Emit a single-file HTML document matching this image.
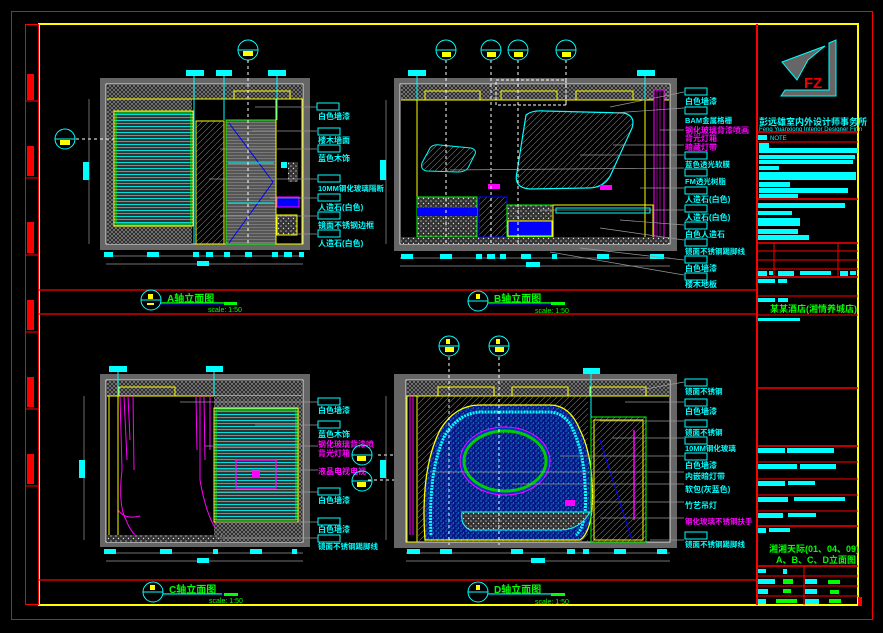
<!DOCTYPE html>
<html><head><meta charset="utf-8"><style>
html,body{margin:0;padding:0;background:#000;}
svg{display:block}
text{font-family:"Liberation Sans","Noto Sans CJK SC",sans-serif;}
</style></head><body>
<svg width="883" height="633" viewBox="0 0 883 633" xmlns="http://www.w3.org/2000/svg">
<defs>
<pattern id="hx" width="4" height="4" patternUnits="userSpaceOnUse"><rect width="4" height="4" fill="#222"/><path d="M0 4L4 0M0 0L4 4" stroke="#888" stroke-width="0.7"/></pattern>
<pattern id="dg" width="6" height="6" patternUnits="userSpaceOnUse"><path d="M0 6L6 0" stroke="#777" stroke-width="0.6"/></pattern>
<pattern id="st" width="60" height="6" patternUnits="userSpaceOnUse"><rect width="60" height="6" fill="#333"/><rect y="0" width="60" height="1" fill="#0dd"/><rect y="3" width="60" height="1" fill="#888"/></pattern>
<pattern id="gs" width="60" height="3" patternUnits="userSpaceOnUse"><rect width="60" height="3" fill="#555"/><rect y="2" width="60" height="0.7" fill="#888"/></pattern>
<pattern id="bd" width="5" height="5" patternUnits="userSpaceOnUse"><rect width="5" height="5" fill="#001a88"/><circle cx="1" cy="1" r="0.6" fill="#5af"/><circle cx="3.5" cy="3" r="0.5" fill="#0ff"/><circle cx="2" cy="4" r="0.4" fill="#fff"/></pattern>
<pattern id="gr" width="5" height="5" patternUnits="userSpaceOnUse"><rect width="5" height="5" fill="#333"/><circle cx="1" cy="1" r="0.8" fill="#aaa"/><circle cx="3.5" cy="3.5" r="0.7" fill="#ddd"/></pattern>
</defs>
<rect width="883" height="633" fill="#000"/>
<rect x="11.5" y="11.5" width="861" height="608" fill="none" stroke="#f00" stroke-width="1"/>
<rect x="39" y="24" width="819" height="581" fill="none" stroke="#ff0" stroke-width="2"/>
<rect x="25.5" y="24.5" width="13" height="580" fill="none" stroke="#f00"/>
<g stroke="#f00"><line x1="25" y1="101" x2="39" y2="101"/><line x1="25" y1="178" x2="39" y2="178"/><line x1="25" y1="255" x2="39" y2="255"/><line x1="25" y1="332" x2="39" y2="332"/><line x1="25" y1="409" x2="39" y2="409"/><line x1="25" y1="486" x2="39" y2="486"/></g>
<g fill="#f00"><rect x="27" y="74" width="7" height="26"/><rect x="27" y="146" width="7" height="30"/><rect x="27" y="222" width="7" height="31"/><rect x="27" y="300" width="7" height="30"/><rect x="27" y="377" width="7" height="30"/><rect x="27" y="454" width="7" height="30"/></g>
<g stroke="#f00" stroke-width="1.2"><line x1="39" y1="290" x2="757" y2="290"/><line x1="39" y1="314" x2="757" y2="314"/><line x1="39" y1="580" x2="757" y2="580"/></g>
<line x1="757" y1="24" x2="757" y2="605" stroke="#f00" stroke-width="2"/>

<g>
<rect x="100" y="78" width="210" height="172" fill="#666"/>
<rect x="106" y="84" width="197" height="160" fill="#000" stroke="#fff" stroke-width="0.8"/>
<rect x="107" y="85" width="195" height="14" fill="url(#hx)"/>
<rect x="107" y="99" width="85" height="145" fill="url(#hx)"/>
<rect x="114" y="111" width="79" height="115" fill="url(#st)" stroke="#ff0"/>
<rect x="116" y="113" width="75" height="111" fill="none" stroke="#0f0"/>
<rect x="196" y="121" width="28" height="123" fill="url(#dg)" stroke="#ff0"/>
<rect x="226" y="120" width="50" height="124" fill="url(#gs)" stroke="#0f0"/>
<line x1="229" y1="123" x2="273" y2="182" stroke="#00f"/><line x1="273" y1="182" x2="229" y2="243" stroke="#00f"/>
<line x1="228" y1="163" x2="274" y2="163" stroke="#0ff"/><line x1="228" y1="203" x2="274" y2="203" stroke="#0ff"/>
<rect x="234" y="91" width="56" height="8" fill="none" stroke="#ff0"/>
<rect x="276" y="99" width="26" height="145" fill="none" stroke="#ff0"/>
<rect x="277" y="197" width="22" height="10" fill="#00f" stroke="#f0f"/>
<rect x="277" y="215" width="20" height="20" fill="url(#gr)" stroke="#ff0"/>
<rect x="288" y="162" width="10" height="20" fill="url(#gr)"/>
<rect x="281" y="162" width="6" height="6" fill="#0ff"/>
<line x1="107" y1="99" x2="302" y2="99" stroke="#ff0"/>
<g stroke="#0ff"><line x1="194" y1="75" x2="194" y2="244"/><line x1="224" y1="75" x2="224" y2="120"/><line x1="277" y1="75" x2="277" y2="120"/></g>
<g fill="#0ff"><rect x="186" y="70" width="18" height="6"/><rect x="216" y="70" width="16" height="6"/><rect x="268" y="70" width="18" height="6"/></g>
<g stroke="#999" stroke-width="0.7"><line x1="89" y1="99" x2="89" y2="244"/><line x1="106" y1="256" x2="303" y2="256"/><line x1="106" y1="264" x2="303" y2="264"/></g>
<rect x="83" y="162" width="6" height="18" fill="#0ff"/>
<g fill="#0ff"><rect x="104" y="252" width="9" height="5"/><rect x="147" y="252" width="12" height="5"/><rect x="193" y="252" width="6" height="5"/><rect x="206" y="252" width="7" height="5"/><rect x="224" y="252" width="6" height="5"/><rect x="245" y="252" width="7" height="5"/><rect x="272" y="252" width="6" height="5"/><rect x="284" y="252" width="8" height="5"/><rect x="299" y="252" width="5" height="5"/><rect x="197" y="261" width="12" height="5"/></g>
<line x1="76" y1="139" x2="114" y2="139" stroke="#fff" stroke-dasharray="3,3"/>
<circle cx="65" cy="139" r="10" fill="none" stroke="#0ff"/><line x1="55" y1="139" x2="75" y2="139" stroke="#0ff"/><rect x="60" y="140" width="10" height="5" fill="#ff0"/>
<circle cx="248" cy="50" r="10" fill="none" stroke="#0ff"/><line x1="238" y1="50" x2="258" y2="50" stroke="#0ff"/><rect x="243" y="51" width="10" height="5" fill="#ff0"/>
<line x1="248" y1="60" x2="248" y2="244" stroke="#fff" stroke-dasharray="3,3"/>
<g stroke="#999" stroke-width="0.7"><line x1="255" y1="107" x2="317" y2="107"/><line x1="252" y1="131" x2="317" y2="131"/><line x1="220" y1="149" x2="317" y2="149"/><line x1="209" y1="179" x2="317" y2="179"/><line x1="270" y1="198" x2="317" y2="198"/><line x1="220" y1="216" x2="317" y2="216"/><line x1="291" y1="234" x2="317" y2="234"/></g>
<g fill="#0ff" font-size="8" font-weight="bold">
<rect x="317" y="103" width="22" height="7" fill="none" stroke="#0ff"/><text x="318" y="119">白色墙漆</text>
<rect x="318" y="128" width="22" height="7" fill="none" stroke="#0ff"/><text x="318" y="143">楼木墙面</text>
<rect x="318" y="145" width="22" height="7" fill="none" stroke="#0ff"/><text x="318" y="161">蓝色木饰</text>
<rect x="318" y="175" width="22" height="7" fill="none" stroke="#0ff"/><text x="318" y="191" font-size="7.5">10MM钢化玻璃隔断</text>
<rect x="318" y="194" width="22" height="7" fill="none" stroke="#0ff"/><text x="318" y="210">人造石(白色)</text>
<rect x="318" y="212" width="22" height="7" fill="none" stroke="#0ff"/><text x="318" y="228">镜面不锈钢边框</text>
<rect x="318" y="230" width="22" height="7" fill="none" stroke="#0ff"/><text x="318" y="246">人造石(白色)</text>
</g>
</g>

<g>
<rect x="394" y="78" width="283" height="173" fill="#666"/>
<rect x="400" y="84" width="270" height="160" fill="#000" stroke="#fff" stroke-width="0.8"/>
<rect x="401" y="85" width="268" height="15" fill="url(#hx)"/>
<line x1="401" y1="100" x2="669" y2="100" stroke="#ff0"/>
<g fill="none" stroke="#ff0"><rect x="425" y="91" width="55" height="9"/><rect x="501" y="91" width="56" height="9"/><rect x="576" y="91" width="57" height="9"/></g>
<rect x="496" y="80" width="70" height="25" fill="none" stroke="#fff" stroke-dasharray="3,2"/>
<rect x="654" y="90" width="10" height="152" fill="#000" stroke="#f0f"/>
<g stroke="#f0f" stroke-width="0.6"><line x1="657" y1="90" x2="657" y2="242"/><line x1="660" y1="90" x2="660" y2="242"/></g>
<line x1="417" y1="100" x2="417" y2="244" stroke="#ff0"/><line x1="645" y1="100" x2="645" y2="244" stroke="#ff0"/>
<path d="M430 148 Q433 144 440 145 L471 148 Q478 150 474 156 L468 168 Q465 172 458 172 L427 171 Q420 170 422 163 Z" fill="url(#dg)" stroke="#0ff"/>
<path d="M526 115 Q532 110 545 111 L624 113 Q636 116 632 128 L612 172 Q606 188 588 188 L530 189 Q513 188 517 172 Z" fill="url(#dg)" stroke="#0ff" stroke-width="1.2"/>
<rect x="417" y="197" width="60" height="40" fill="url(#gr)" stroke="#0f0"/>
<rect x="417" y="208" width="60" height="8" fill="#00f"/>
<rect x="479" y="197" width="28" height="40" fill="url(#dg)" stroke="#00f"/>
<rect x="507" y="205" width="46" height="32" fill="url(#gr)" stroke="#0f0"/>
<rect x="508" y="221" width="44" height="15" fill="#00f" stroke="#ff0"/>
<rect x="553" y="205" width="100" height="33" fill="none" stroke="#ff0"/>
<rect x="556" y="208" width="94" height="5" fill="none" stroke="#0ff"/>
<rect x="401" y="237" width="268" height="7" fill="url(#gr)"/>
<rect x="488" y="184" width="12" height="5" fill="#f0f"/><rect x="600" y="185" width="12" height="5" fill="#f0f"/>
<g stroke="#fff" stroke-dasharray="3,3"><line x1="446" y1="60" x2="446" y2="244"/><line x1="491" y1="60" x2="491" y2="244"/><line x1="518" y1="60" x2="518" y2="244"/><line x1="566" y1="60" x2="566" y2="105"/></g>
<g><circle cx="446" cy="50" r="10" fill="none" stroke="#0ff"/><circle cx="491" cy="50" r="10" fill="none" stroke="#0ff"/><circle cx="518" cy="50" r="10" fill="none" stroke="#0ff"/><circle cx="566" cy="50" r="10" fill="none" stroke="#0ff"/>
<g stroke="#0ff"><line x1="436" y1="50" x2="456" y2="50"/><line x1="481" y1="50" x2="501" y2="50"/><line x1="508" y1="50" x2="528" y2="50"/><line x1="556" y1="50" x2="576" y2="50"/></g>
<g fill="#ff0"><rect x="442" y="52" width="9" height="5"/><rect x="487" y="52" width="9" height="5"/><rect x="514" y="52" width="9" height="5"/><rect x="562" y="52" width="9" height="5"/></g></g>
<g fill="#0ff"><rect x="408" y="70" width="18" height="6"/><rect x="637" y="70" width="18" height="6"/></g>
<g stroke="#0ff"><line x1="417" y1="76" x2="417" y2="100"/><line x1="645" y1="76" x2="645" y2="100"/></g>
<g stroke="#999" stroke-width="0.7"><line x1="386" y1="100" x2="386" y2="244"/><line x1="400" y1="258" x2="670" y2="258"/><line x1="400" y1="266" x2="670" y2="266"/></g>
<rect x="380" y="160" width="6" height="20" fill="#0ff"/>
<g fill="#0ff"><rect x="401" y="254" width="12" height="5"/><rect x="440" y="254" width="12" height="5"/><rect x="476" y="254" width="6" height="5"/><rect x="487" y="254" width="8" height="5"/><rect x="500" y="254" width="6" height="5"/><rect x="521" y="254" width="10" height="5"/><rect x="552" y="254" width="5" height="5"/><rect x="597" y="254" width="12" height="5"/><rect x="650" y="254" width="14" height="5"/><rect x="526" y="262" width="14" height="5"/></g>
<g stroke="#999" stroke-width="0.7"><line x1="610" y1="107" x2="684" y2="92"/><line x1="613" y1="113" x2="684" y2="108"/><line x1="660" y1="130" x2="684" y2="130"/><line x1="613" y1="145" x2="684" y2="145"/><line x1="580" y1="155" x2="684" y2="155"/><line x1="450" y1="170" x2="684" y2="168"/><line x1="640" y1="188" x2="684" y2="188"/><line x1="540" y1="210" x2="684" y2="210"/><line x1="620" y1="220" x2="684" y2="225"/><line x1="600" y1="228" x2="684" y2="240"/><line x1="580" y1="248" x2="684" y2="260"/><line x1="550" y1="252" x2="684" y2="275"/></g>
<g fill="#0ff" font-size="8" font-weight="bold">
<rect x="685" y="88" width="22" height="7" fill="none" stroke="#0ff"/><text x="685" y="104">白色墙漆</text>
<rect x="685" y="107" width="22" height="7" fill="none" stroke="#0ff"/><text x="685" y="123" font-size="7.5">BAM金属格栅</text>
<text x="685" y="133" fill="#f0f">钢化玻璃背漆喷画</text><text x="685" y="141" fill="#f0f">背光灯箱</text><text x="685" y="150" fill="#f0f">暗藏灯带</text>
<rect x="685" y="152" width="22" height="7" fill="none" stroke="#0ff"/><text x="685" y="167" font-size="7.5">蓝色透光软膜</text>
<rect x="685" y="169" width="22" height="7" fill="none" stroke="#0ff"/><text x="685" y="184" font-size="7.5">FM透光树脂</text>
<rect x="685" y="187" width="22" height="7" fill="none" stroke="#0ff"/><text x="685" y="202">人造石(白色)</text>
<rect x="685" y="205" width="22" height="7" fill="none" stroke="#0ff"/><text x="685" y="220">人造石(白色)</text>
<rect x="685" y="222" width="22" height="7" fill="none" stroke="#0ff"/><text x="685" y="237">白色人造石</text>
<rect x="685" y="239" width="22" height="7" fill="none" stroke="#0ff"/><text x="685" y="254" font-size="7.5">镜面不锈钢踢脚线</text>
<rect x="685" y="256" width="22" height="7" fill="none" stroke="#0ff"/><text x="685" y="271">白色墙漆</text>
<rect x="685" y="273" width="22" height="7" fill="none" stroke="#0ff"/><text x="685" y="287">楼木地板</text>
</g>
</g>

<g>
<rect x="100" y="374" width="210" height="173" fill="#666"/>
<rect x="106" y="380" width="197" height="162" fill="#000" stroke="#fff" stroke-width="0.8"/>
<rect x="107" y="381" width="195" height="15" fill="url(#hx)"/>
<line x1="107" y1="396" x2="302" y2="396" stroke="#ff0"/>
<rect x="119" y="387" width="56" height="9" fill="none" stroke="#ff0"/>
<rect x="214" y="396" width="88" height="146" fill="url(#hx)"/>
<rect x="214" y="408" width="84" height="114" fill="url(#st)" stroke="#ff0"/>
<rect x="216" y="410" width="80" height="110" fill="none" stroke="#0f0"/>
<rect x="236" y="460" width="40" height="28" fill="none" stroke="#f0f" stroke-width="1.3"/>
<rect x="252" y="470" width="8" height="8" fill="#f0f"/>
<g fill="none" stroke="#f0f" stroke-width="1"><path d="M120 396 L122 470 Q118 505 126 520 Q130 530 135 535"/><path d="M124 396 L127 460 M128 396 L130 440 M133 396 L134 470"/><path d="M200 396 L200 480 Q205 510 215 528"/><path d="M204 396 L205 460 M210 396 L210 450 M196 396 L197 450"/><path d="M118 510 Q125 520 140 516"/></g>
<line x1="109" y1="396" x2="109" y2="542" stroke="#ff0"/><line x1="118" y1="396" x2="118" y2="542" stroke="#ff0"/>
<rect x="107" y="535" width="116" height="7" fill="url(#gr)"/>
<g stroke="#0ff"><line x1="118" y1="372" x2="118" y2="396"/><line x1="214" y1="372" x2="214" y2="396"/></g>
<g fill="#0ff"><rect x="109" y="366" width="18" height="6"/><rect x="206" y="366" width="17" height="6"/></g>
<g stroke="#999" stroke-width="0.7"><line x1="84" y1="396" x2="84" y2="540"/><line x1="106" y1="553" x2="303" y2="553"/><line x1="106" y1="561" x2="303" y2="561"/></g>
<rect x="79" y="460" width="6" height="18" fill="#0ff"/>
<g fill="#0ff"><rect x="104" y="549" width="12" height="5"/><rect x="160" y="549" width="12" height="5"/><rect x="213" y="549" width="5" height="5"/><rect x="250" y="549" width="12" height="5"/><rect x="292" y="549" width="5" height="5"/><rect x="197" y="558" width="12" height="5"/></g>
<g stroke="#999" stroke-width="0.7"><line x1="180" y1="402" x2="318" y2="402"/><line x1="255" y1="425" x2="318" y2="425"/><line x1="205" y1="446" x2="318" y2="446"/><line x1="216" y1="470" x2="318" y2="470"/><line x1="216" y1="492" x2="318" y2="492"/><line x1="216" y1="522" x2="318" y2="522"/><line x1="216" y1="538" x2="318" y2="538"/></g>
<g fill="#0ff" font-size="8" font-weight="bold">
<rect x="318" y="398" width="22" height="7" fill="none" stroke="#0ff"/><text x="318" y="413">白色墙漆</text>
<rect x="318" y="421" width="22" height="7" fill="none" stroke="#0ff"/><text x="318" y="437">蓝色木饰</text>
<text x="318" y="447" fill="#f0f">钢化玻璃背漆喷</text><text x="318" y="456" fill="#f0f">背光灯箱</text>
<text x="318" y="474" fill="#f0f">液晶电视电视</text>
<rect x="318" y="488" width="22" height="7" fill="none" stroke="#0ff"/><text x="318" y="503">白色墙漆</text>
<rect x="318" y="518" width="22" height="7" fill="none" stroke="#0ff"/><text x="318" y="532">白色墙漆</text>
<rect x="318" y="535" width="22" height="7" fill="none" stroke="#0ff"/><text x="318" y="549" font-size="7.5">镜面不锈钢踢脚线</text>
</g>
<line x1="378" y1="455" x2="400" y2="455" stroke="#fff" stroke-dasharray="3,3"/>
<line x1="368" y1="480" x2="400" y2="480" stroke="#fff" stroke-dasharray="3,3"/>
<circle cx="362" cy="455" r="10" fill="none" stroke="#0ff"/><line x1="352" y1="455" x2="372" y2="455" stroke="#0ff"/><rect x="357" y="456" width="9" height="5" fill="#ff0"/>
<circle cx="362" cy="481" r="10" fill="none" stroke="#0ff"/><line x1="352" y1="481" x2="372" y2="481" stroke="#0ff"/><rect x="357" y="482" width="9" height="5" fill="#ff0"/>
</g>

<g>
<rect x="394" y="374" width="283" height="174" fill="#666"/>
<rect x="406" y="380" width="264" height="162" fill="#000" stroke="#fff" stroke-width="0.8"/>
<rect x="407" y="381" width="262" height="15" fill="url(#hx)"/>
<line x1="407" y1="396" x2="669" y2="396" stroke="#ff0"/>
<g fill="none" stroke="#ff0"><rect x="438" y="387" width="56" height="9"/><rect x="512" y="387" width="56" height="9"/><rect x="590" y="387" width="56" height="9"/></g>
<rect x="407" y="396" width="10" height="146" fill="none" stroke="#ff0"/>
<g stroke="#f0f"><line x1="410" y1="396" x2="410" y2="535"/><line x1="413" y1="396" x2="413" y2="535"/></g>
<rect x="418" y="396" width="170" height="146" fill="url(#dg)"/>
<path d="M425 540 Q420 470 440 430 Q455 405 480 405 L550 405 Q570 405 580 430 Q590 450 592 480 Q595 530 580 540 Z" fill="url(#bd)" stroke="#ff0" stroke-width="1.3"/>
<path d="M431 535 Q428 470 445 435 Q460 412 482 412 L548 412 Q566 412 574 432 Q584 455 585 485 Q588 525 576 535" fill="none" stroke="#0ff" stroke-width="3" stroke-dasharray="2,1"/>
<ellipse cx="505" cy="461" rx="45" ry="34" fill="#0033cc" stroke="#f0f"/>
<ellipse cx="505" cy="461" rx="41" ry="30" fill="url(#bd)" stroke="#0c0" stroke-width="3"/>
<path d="M462 512 L590 512 Q580 530 560 530 L470 530 Q460 525 462 512Z" fill="url(#gr)" stroke="#0ff"/>
<rect x="591" y="417" width="55" height="125" fill="url(#dg)" stroke="#0f0"/>
<rect x="594" y="420" width="49" height="120" fill="none" stroke="#ff0"/>
<line x1="634" y1="430" x2="634" y2="520" stroke="#f0f" stroke-width="1.5"/>
<line x1="600" y1="440" x2="632" y2="540" stroke="#00f"/>
<rect x="565" y="500" width="10" height="6" fill="#f0f"/>
<g stroke="#fff" stroke-dasharray="3,3"><line x1="449" y1="357" x2="449" y2="545"/><line x1="499" y1="357" x2="499" y2="545"/></g>
<circle cx="449" cy="346" r="10" fill="none" stroke="#0ff"/><line x1="439" y1="346" x2="459" y2="346" stroke="#0ff"/><rect x="445" y="347" width="9" height="5" fill="#ff0"/><rect x="446" y="339" width="4" height="5" fill="#ff0"/>
<circle cx="499" cy="346" r="10" fill="none" stroke="#0ff"/><line x1="489" y1="346" x2="509" y2="346" stroke="#0ff"/><rect x="495" y="347" width="9" height="5" fill="#ff0"/><rect x="496" y="339" width="4" height="5" fill="#ff0"/>
<rect x="583" y="368" width="17" height="6" fill="#0ff"/><line x1="591" y1="374" x2="591" y2="417" stroke="#0ff"/>
<g stroke="#999" stroke-width="0.7"><line x1="386" y1="396" x2="386" y2="540"/><line x1="406" y1="553" x2="670" y2="553"/><line x1="406" y1="561" x2="670" y2="561"/></g>
<rect x="380" y="460" width="6" height="18" fill="#0ff"/>
<g fill="#0ff"><rect x="407" y="549" width="13" height="5"/><rect x="440" y="549" width="12" height="5"/><rect x="511" y="549" width="12" height="5"/><rect x="567" y="549" width="8" height="5"/><rect x="583" y="549" width="6" height="5"/><rect x="614" y="549" width="12" height="5"/><rect x="657" y="549" width="10" height="5"/><rect x="531" y="558" width="14" height="5"/></g>
<g stroke="#999" stroke-width="0.7"><line x1="640" y1="390" x2="684" y2="382"/><line x1="625" y1="402" x2="684" y2="402"/><line x1="600" y1="421" x2="684" y2="421"/><line x1="612" y1="438" x2="684" y2="438"/><line x1="560" y1="456" x2="684" y2="456"/><line x1="430" y1="472" x2="684" y2="472"/><line x1="512" y1="484" x2="684" y2="484"/><line x1="590" y1="502" x2="684" y2="502"/><line x1="600" y1="518" x2="684" y2="518"/><line x1="650" y1="540" x2="684" y2="540"/></g>
<g fill="#0ff" font-size="8" font-weight="bold">
<rect x="685" y="379" width="22" height="7" fill="none" stroke="#0ff"/><text x="685" y="394" font-size="7.5">镜面不锈钢</text>
<rect x="685" y="399" width="22" height="7" fill="none" stroke="#0ff"/><text x="685" y="414">白色墙漆</text>
<rect x="685" y="420" width="22" height="7" fill="none" stroke="#0ff"/><text x="685" y="435" font-size="7.5">镜面不锈钢</text>
<rect x="685" y="437" width="22" height="7" fill="none" stroke="#0ff"/><text x="685" y="451" font-size="7.5">10MM钢化玻璃</text>
<rect x="685" y="453" width="22" height="7" fill="none" stroke="#0ff"/><text x="685" y="468">白色墙漆</text>
<text x="685" y="479">内嵌暗灯带</text>
<text x="685" y="492">软包(灰蓝色)</text>
<text x="685" y="508">竹艺吊灯</text>
<text x="685" y="524" fill="#f0f" font-size="7.5">钢化玻璃不锈钢扶手</text>
<rect x="685" y="532" width="22" height="7" fill="none" stroke="#0ff"/><text x="685" y="547" font-size="7.5">镜面不锈钢踢脚线</text>
</g>
</g>

<g>
<circle cx="151" cy="300" r="10" fill="none" stroke="#0ff"/><line x1="141" y1="300" x2="161" y2="300" stroke="#0ff"/><rect x="148" y="294" width="5" height="5" fill="#ff0"/><rect x="147" y="303" width="7" height="2" fill="#ff0"/>
<text x="167" y="302" font-size="10" fill="#0f0" font-weight="bold">A轴立面图</text><line x1="161" y1="303" x2="226" y2="303" stroke="#0f0" stroke-width="1.5"/><line x1="161" y1="304" x2="237" y2="304" stroke="#00f"/><rect x="224" y="302" width="13" height="3" fill="#0f0"/><text x="208" y="312" font-size="7" fill="#0f0">scale: 1:50</text>
<circle cx="478" cy="301" r="10" fill="none" stroke="#0ff"/><line x1="468" y1="301" x2="488" y2="301" stroke="#0ff"/><rect x="476" y="294" width="4" height="5" fill="#ff0"/>
<text x="494" y="302" font-size="10" fill="#0f0" font-weight="bold">B轴立面图</text><line x1="488" y1="303" x2="552" y2="303" stroke="#0f0" stroke-width="1.5"/><line x1="488" y1="304" x2="565" y2="304" stroke="#00f"/><rect x="551" y="302" width="14" height="3" fill="#0f0"/><text x="535" y="313" font-size="7" fill="#0f0">scale: 1:50</text>
<circle cx="153" cy="592" r="10" fill="none" stroke="#0ff"/><line x1="143" y1="592" x2="163" y2="592" stroke="#0ff"/><rect x="150" y="585" width="5" height="5" fill="#ff0"/>
<text x="169" y="593" font-size="10" fill="#0f0" font-weight="bold">C轴立面图</text><line x1="163" y1="594" x2="222" y2="594" stroke="#0f0" stroke-width="1.5"/><line x1="163" y1="595" x2="238" y2="595" stroke="#00f"/><rect x="224" y="593" width="14" height="3" fill="#0f0"/><text x="209" y="603" font-size="7" fill="#0f0">scale: 1:50</text>
<circle cx="478" cy="592" r="10" fill="none" stroke="#0ff"/><line x1="468" y1="592" x2="488" y2="592" stroke="#0ff"/><rect x="476" y="585" width="4" height="5" fill="#ff0"/>
<text x="494" y="593" font-size="10" fill="#0f0" font-weight="bold">D轴立面图</text><line x1="488" y1="594" x2="552" y2="594" stroke="#0f0" stroke-width="1.5"/><line x1="488" y1="595" x2="565" y2="595" stroke="#00f"/><rect x="551" y="593" width="14" height="3" fill="#0f0"/><text x="535" y="604" font-size="7" fill="#0f0">scale: 1:50</text>
</g>

<g>
<path d="M782 62 L825 46 L808 60 L797 80 Z" fill="#666" stroke="#0ff"/>
<path d="M829 43 L836 40 L836 96 L781 96 L785 90 L829 90 Z" fill="#666" stroke="#0ff"/>
<text x="804" y="88" font-size="15" fill="#e00" font-weight="bold">FZ</text>
<text x="759" y="125" font-size="9" fill="#0ff" font-weight="bold">彭远雄室内外设计师事务所</text>
<text x="759" y="131" font-size="6" fill="#0ff">Feng Yuanxiong Interior Designer Firm</text>
<g stroke="#f00"><line x1="757" y1="132" x2="858" y2="132" stroke-width="1.5"/><line x1="757" y1="142" x2="858" y2="142"/><line x1="757" y1="199" x2="858" y2="199" stroke-width="1.5"/><line x1="757" y1="243" x2="858" y2="243" stroke-width="1.5"/><line x1="757" y1="251" x2="858" y2="251"/><line x1="757" y1="260" x2="858" y2="260"/><line x1="757" y1="269" x2="858" y2="269"/><line x1="757" y1="277" x2="858" y2="277" stroke-width="1.5"/><line x1="757" y1="296" x2="858" y2="296"/><line x1="757" y1="315" x2="858" y2="315"/><line x1="757" y1="388" x2="858" y2="388" stroke-width="1.5"/><line x1="757" y1="446" x2="858" y2="446" stroke-width="1.5"/><line x1="757" y1="462" x2="858" y2="462"/><line x1="757" y1="479" x2="858" y2="479"/><line x1="757" y1="495" x2="858" y2="495"/><line x1="757" y1="511" x2="858" y2="511"/><line x1="757" y1="526" x2="858" y2="526" stroke-width="1.5"/><line x1="757" y1="566" x2="858" y2="566" stroke-width="1.5"/><line x1="757" y1="576" x2="858" y2="576"/><line x1="757" y1="586" x2="858" y2="586"/><line x1="757" y1="596" x2="858" y2="596"/>
<line x1="774" y1="243" x2="774" y2="277"/><line x1="838" y1="243" x2="838" y2="277"/><line x1="804" y1="566" x2="804" y2="605"/></g>
<g fill="#0ff">
<rect x="758" y="135" width="9" height="5"/><text x="770" y="140" font-size="6">NOTE</text>
<rect x="759" y="143" width="10" height="5"/><rect x="759" y="148" width="99" height="5"/><rect x="759" y="155" width="96" height="4"/><rect x="759" y="160" width="94" height="4"/><rect x="759" y="166" width="20" height="4"/><rect x="759" y="172" width="97" height="8"/><rect x="759" y="182" width="31" height="5"/><rect x="759" y="188" width="89" height="5"/><rect x="759" y="194" width="39" height="4"/>
<rect x="758" y="203" width="87" height="5"/><rect x="758" y="211" width="34" height="4"/><rect x="758" y="218" width="42" height="8"/><rect x="758" y="229" width="40" height="5"/><rect x="758" y="235" width="51" height="5"/>
<rect x="758" y="271" width="9" height="5"/><rect x="769" y="271" width="4" height="4"/><rect x="778" y="271" width="16" height="5"/><rect x="800" y="271" width="31" height="4"/><rect x="840" y="271" width="8" height="5"/><rect x="850" y="271" width="6" height="4"/>
<rect x="758" y="279" width="17" height="4"/><rect x="778" y="279" width="9" height="4"/>
<rect x="758" y="298" width="17" height="4"/><rect x="778" y="298" width="10" height="4"/>
<rect x="758" y="318" width="42" height="3"/>
<rect x="758" y="448" width="27" height="5"/><rect x="787" y="448" width="47" height="5"/>
<rect x="758" y="464" width="39" height="5"/><rect x="800" y="464" width="36" height="5"/>
<rect x="758" y="481" width="27" height="5"/><rect x="788" y="481" width="27" height="4"/>
<rect x="758" y="497" width="30" height="5"/><rect x="794" y="497" width="51" height="4"/>
<rect x="758" y="513" width="25" height="5"/><rect x="788" y="513" width="28" height="4"/>
<rect x="758" y="528" width="8" height="5"/><rect x="769" y="528" width="21" height="4"/>
<rect x="758" y="569" width="8" height="4"/><rect x="783" y="569" width="4" height="5"/>
<rect x="758" y="579" width="17" height="5"/><rect x="805" y="579" width="12" height="5"/>
<rect x="758" y="589" width="10" height="5"/><rect x="805" y="589" width="12" height="5"/>
<rect x="758" y="599" width="8" height="5"/><rect x="805" y="599" width="14" height="5"/>
</g>
<g fill="#0f0"><rect x="783" y="579" width="10" height="5"/><rect x="828" y="580" width="12" height="4"/><rect x="783" y="589" width="8" height="4"/><rect x="830" y="590" width="9" height="4"/><rect x="776" y="599" width="21" height="4"/><rect x="829" y="599" width="12" height="4"/></g>
<text x="770" y="312" font-size="9" fill="#0f0" font-weight="bold">某某酒店(湘情养城店)</text>
<text x="769" y="552" font-size="9" fill="#0f0" font-weight="bold">湘湘天际(01、04、09)</text>
<text x="776" y="563" font-size="9" fill="#0f0" font-weight="bold">A、B、C、D立面图</text>
<rect x="858" y="597" width="4" height="9" fill="#f00"/>
</g>
</svg>
</body></html>
